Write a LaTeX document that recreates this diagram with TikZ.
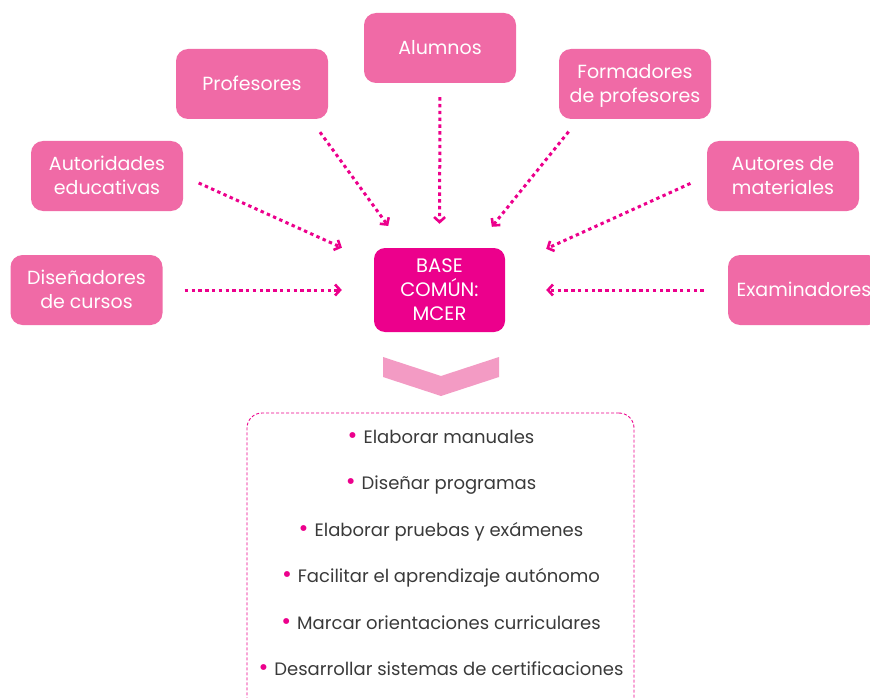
\documentclass[tikz,border=0pt]{standalone}
\usepackage{fontspec}
\setmainfont{Poppins}
\usetikzlibrary{arrows.meta}
\definecolor{rosa}{HTML}{F06AA6}
\definecolor{fucsia}{HTML}{EC008C}
\definecolor{rosaclaro}{HTML}{F39BC4}
\definecolor{gris}{HTML}{3A3A3A}
\newcommand{\bala}{{\color{fucsia}\fontsize{24}{46.4}\selectfont\textbullet}\hspace{6pt}}

\begin{document}
\begin{tikzpicture}[x=1pt,y=-1pt,
    grupo/.style={fill=rosa, text=white, rounded corners=12pt, align=center,
        minimum width=152pt, minimum height=70pt, inner sep=2pt,
        text depth=1pt, font=\fontsize{19}{24}\selectfont},
    base/.style={fill=fucsia, text=white, rounded corners=11pt, align=center,
        minimum width=131pt, minimum height=84pt, inner sep=2pt,
        font=\fontsize{19.5}{24}\selectfont},
    flecha/.style={fucsia, line width=3pt, dash pattern=on 3.4pt off 3.4pt,
        -{Straight Barb[length=5pt,width=11pt,line width=2.6pt]}}]
    \useasboundingbox (0,0) rectangle (870,698);
    \node [grupo] (alum) at (440,48) {Alumnos};
    \node [grupo] (prof) at (252,84) {Profesores};
    \node [grupo] (form) at (635,84) {Formadores\\de profesores};
    \node [grupo] (auto) at (107,176) {Autoridades\\educativas};
    \node [grupo] (mat) at (783,176) {Autores de\\materiales};
    \node [grupo] (dise) at (86.5,290) {Diseñadores\\de cursos};
    \node [grupo] (exam) at (804,290) {Examinadores};
    \node [base] (base) at (439.5,290) {BASE\\COMÚN:\\MCER};
    \draw [flecha, shorten <=14pt, shorten >=24pt] (alum.south) -- (base.north);
    \draw [flecha, shorten <=16pt, shorten >=27pt] (prof.-31.5) -- (base.130);
    \draw [flecha, shorten <=16pt, shorten >=27pt] (form.-148.5) -- (base.50);
    \draw [flecha, shorten <=17pt, shorten >=35pt] (auto.east) -- (base.157);
    \draw [flecha, shorten <=18pt, shorten >=45pt] (mat.west) -- (base.19.5);
    \draw [flecha, shorten <=22pt, shorten >=32pt] (dise.east) -- (base.west);
    \draw [flecha, shorten <=24pt, shorten >=41pt] (exam.west) -- (base.east);
    \fill [rosaclaro] (383,357) -- (441,376) -- (499,357) -- (499,377) -- (441,396) -- (383,377) -- cycle;
    \node [draw=fucsia, line width=0.9pt, dash pattern=on 3pt off 2pt, rounded corners=15pt,
        minimum width=387pt, minimum height=310pt] (marco) at (440.5,568) {};
    \node [text=gris, align=center, font=\fontsize{18}{46.4}\selectfont] (lista) at (441,553)
        {\bala Elaborar manuales\\
         \bala Diseñar programas\\
         \bala Elaborar pruebas y exámenes\\
         \bala Facilitar el aprendizaje autónomo\\
         \bala Marcar orientaciones curriculares\\
         \bala Desarrollar sistemas de certificaciones};
\end{tikzpicture}
\end{document}
